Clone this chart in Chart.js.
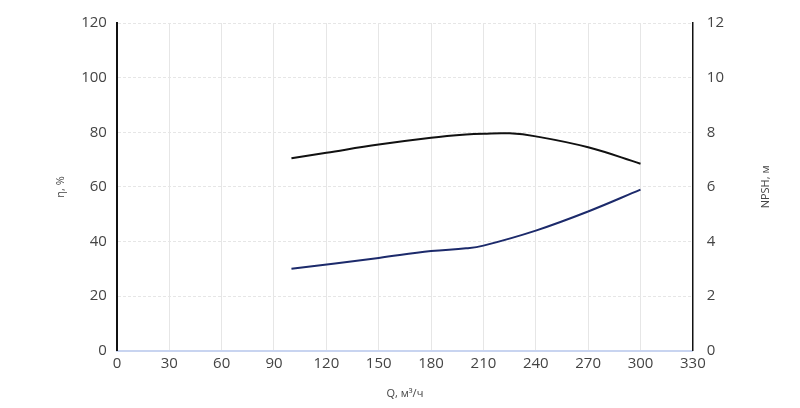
<!DOCTYPE html>
<html>
<head>
<meta charset="utf-8">
<script src="https://cdn.jsdelivr.net/npm/chart.js@4"></script>
<style>
  html, body { margin: 0; padding: 0; background: #fff; }
  #wrap { width: 800px; height: 408px; }
</style>
</head>
<body>
<div id="wrap"><canvas id="chart"></canvas></div>
<script>
const flowQ = [100, 120, 150, 180, 200, 210, 225, 240, 270, 300];
const efficiency = [70.5, 72.5, 75.5, 78, 79.2, 79.5, 79.6, 78.5, 74.5, 68.5];
const npshQ = [100, 150, 180, 200, 210, 240, 270, 300];
const npsh = [3.0, 3.4, 3.65, 3.75, 3.85, 4.4, 5.1, 5.9];

const toPoints = (xs, ys) => xs.map((x, i) => ({ x, y: ys[i] }));
const TICK_FONT = { family: 'Open Sans', size: 15 };

// right axis title reads bottom-to-top in the reference
const rightTitle = {
    id: 'rightTitle',
    afterDraw(chart) {
        const { ctx, chartArea } = chart;
        ctx.save();
        ctx.translate(766, (chartArea.top + chartArea.bottom) / 2);
        ctx.rotate(-Math.PI / 2);
        ctx.fillStyle = '#444';
        ctx.font = '11px "Open Sans"';
        ctx.textAlign = 'center';
        ctx.textBaseline = 'middle';
        ctx.fillText('NPSH, м', 0, 0);
        ctx.restore();
    }
};

new Chart(document.getElementById('chart').getContext('2d'), {
    type: 'line',
    data: {
        datasets: [
            { label: 'η', data: toPoints(flowQ, efficiency), borderColor: '#111111', borderWidth: 2, pointRadius: 0, tension: 0.4, yAxisID: 'y' },
            { label: 'NPSH', data: toPoints(npshQ, npsh), borderColor: '#1c2a6b', borderWidth: 2, pointRadius: 0, tension: 0.4, yAxisID: 'y2' }
        ]
    },
    options: {
        responsive: true,
        maintainAspectRatio: false,
        animation: false,
        layout: { padding: { left: 50, right: 62, top: 12, bottom: 4 } },
        plugins: { legend: { display: false }, tooltip: { enabled: false } },
        scales: {
            x: {
                type: 'linear', min: 0, max: 330,
                ticks: { stepSize: 30, color: '#444', font: TICK_FONT, padding: 4 },
                grid: { color: '#e6e6e6', drawTicks: false },
                border: { color: '#c8d4f0', width: 2 },
                title: { display: true, text: 'Q, м³/ч', color: '#444', font: { family: 'Open Sans', size: 11 }, padding: { top: 10 } }
            },
            y: {
                position: 'left', min: 0, max: 120,
                ticks: { stepSize: 20, color: '#444', font: TICK_FONT, padding: 10 },
                grid: { color: '#e6e6e6', drawTicks: false },
                border: { color: '#111', width: 2, dash: [3, 2] },
                title: { display: true, text: 'η, %', color: '#444', font: { family: 'Open Sans', size: 11 } }
            },
            y2: {
                position: 'right', min: 0, max: 12,
                ticks: { stepSize: 2, color: '#444', font: TICK_FONT, padding: 14 },
                grid: { display: false, drawTicks: false },
                border: { color: '#111', width: 1.5 }
            }
        }
    },
    plugins: [rightTitle]
});
</script>
</body>
</html>
